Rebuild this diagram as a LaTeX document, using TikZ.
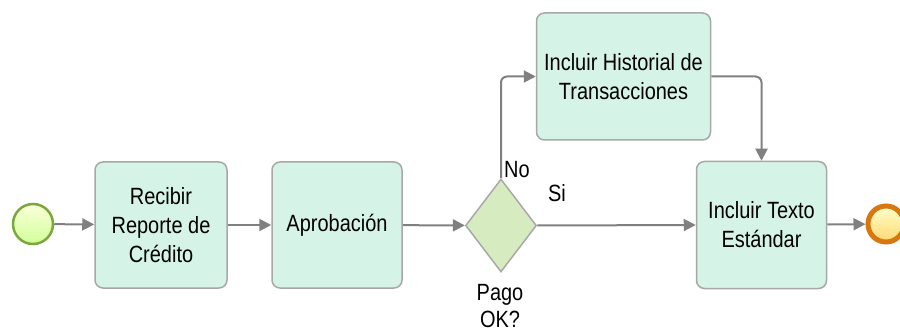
\documentclass[tikz,border=0pt]{standalone}
\usepackage{fontspec}
\setmainfont[FakeStretch=0.85]{Liberation Sans}
\usetikzlibrary{arrows.meta,shapes.geometric}
\definecolor{taskfill}{HTML}{D5F3E7}
\definecolor{taskline}{HTML}{A8A8A8}
\definecolor{gwfill}{HTML}{D6ECC0}
\definecolor{flowline}{HTML}{808080}
\definecolor{startline}{HTML}{7AA83A}
\definecolor{endline}{HTML}{D9770F}
\begin{document}
\begin{tikzpicture}[x=1pt,y=-1pt,
  task/.style={draw=taskline, line width=1.5pt, fill=taskfill, rounded corners=8pt,
    align=center, inner sep=2pt, font=\fontsize{23.5}{29}\selectfont},
  gateway/.style={diamond, draw=taskline, line width=1.5pt, fill=gwfill, inner sep=0pt,
    minimum width=71pt, minimum height=93pt},
  flow/.style={draw=flowline, line width=2pt, rounded corners=6pt,
    -{Triangle[length=12pt,width=12pt]}},
  lbl/.style={font=\fontsize{23.5}{27}\selectfont, inner sep=0pt, align=center}]
\useasboundingbox (0,0) rectangle (900,334);

% events
\node[circle, draw=startline, line width=2.5pt, minimum size=40pt, inner sep=0pt,
  top color=green!10!yellow!15, bottom color=green!45!yellow!40!white] (start) at (33,224) {};
\node[circle, draw=endline, line width=5pt, minimum size=36pt, inner sep=0pt,
  top color=yellow!20, bottom color=orange!55!yellow!55!white] (end) at (886,224) {};

% tasks
\node[task, minimum width=132pt, minimum height=126pt] (recibir) at (161,225)
  {Recibir\\Reporte de\\Crédito};
\node[task, minimum width=130pt, minimum height=126pt] (aprob) at (337,225)
  {Aprobación};
\node[gateway] (gw) at (501,225.5) {};
\node[task, minimum width=174pt, minimum height=127pt] (hist) at (623.5,76.5)
  {Incluir Historial de\\Transacciones};
\node[task, minimum width=130pt, minimum height=127pt] (texto) at (761.5,225)
  {Incluir Texto\\Estándar};

% labels
\node[lbl] (no) at (517,170) {No};
\node[lbl] (si) at (557,193) {Si};
\node[lbl] (pago) at (500,306) {Pago\\OK?};

% sequence flows
\draw[flow] (start) -- (recibir);
\draw[flow] (recibir) -- (aprob);
\draw[flow] (aprob) -- (gw);
\draw[flow] (gw.north) |- (hist.west);
\draw[flow] (hist.east) -| (texto.north);
\draw[flow] (gw.east) -- (texto.west);
\draw[flow] (texto) -- (end);
\end{tikzpicture}
\end{document}
